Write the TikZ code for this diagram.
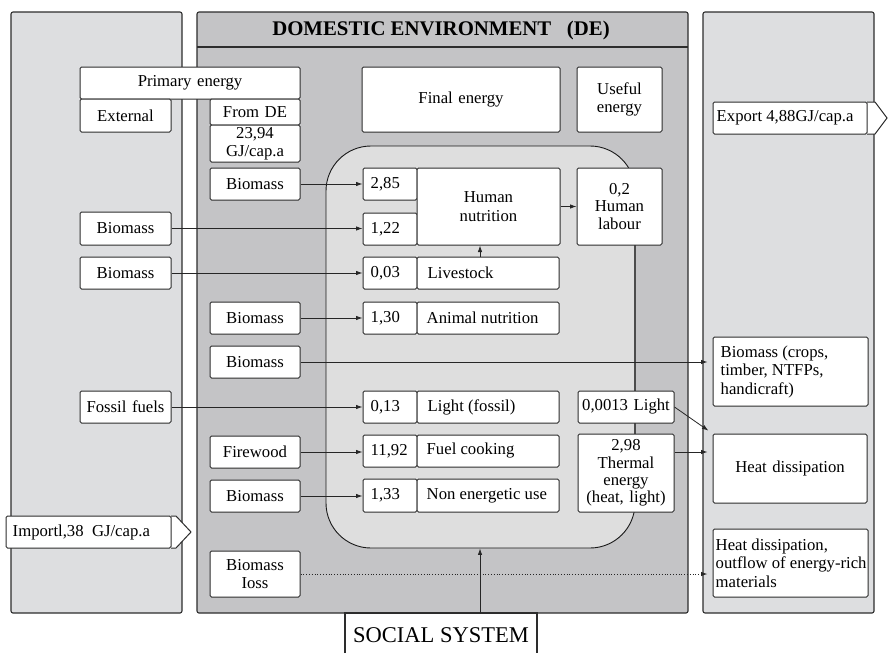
\documentclass[tikz,border=0pt]{standalone}
\usepackage{fontspec}
\setmainfont{Liberation Serif}
\usetikzlibrary{arrows.meta,calc}
\definecolor{outerg}{RGB}{221,222,224}
\definecolor{centerg}{RGB}{196,196,198}
\definecolor{innerg}{RGB}{222,222,222}
\definecolor{edge}{RGB}{45,45,45}
\tikzset{
  panel/.style={draw=edge, line width=1.1pt, rounded corners=2pt},
  box/.style={draw=edge, fill=white, line width=1pt, rounded corners=1.5pt, inner ysep=0pt, inner xsep=3pt,
    font=\fontsize{16.7}{18.5}\selectfont},
  txt/.style={inner sep=0pt, font=\fontsize{16.7}{18.5}\selectfont, align=left},
  flow/.style={draw=black!85, line width=0.8pt, -{Latex[length=6.5pt,width=4.5pt]}},
}
% centred box: [opt]{name}{x1}{y1}{x2}{y2}{text}
\newcommand\mybox[7][]{\node[box, align=center, text width={(#5-#3-6)*1pt},
  minimum width={(#5-#3)*1pt}, minimum height={(#6-#4)*1pt}, #1] (#2) at ({(#3+#5)/2},{(#4+#6)/2}) {#7};}
% left-aligned box: [opt]{name}{x1}{y1}{x2}{y2}{pad}{text}
\newcommand\myleftbox[8][]{\node[box, minimum width={(#5-#3)*1pt}, minimum height={(#6-#4)*1pt}] (#2) at ({(#3+#5)/2},{(#4+#6)/2}) {};
  \node[txt, anchor=west, #1] (#2-t) at ($(#2.west)+(#7,0)$) {#8};}
\begin{document}
\begin{tikzpicture}[x=1pt,y=-1pt]
\useasboundingbox (0,0) rectangle (888,653);
% panels
\draw[panel, fill=outerg] (11,12) rectangle (182,613);
\draw[panel, fill=centerg] (197,12) rectangle (688,613);
\draw[edge, line width=1.1pt] (197,47) -- (688,47);
\node[font=\bfseries\fontsize{20.8}{22}\selectfont] (de) at (441,30) {DOMESTIC ENVIRONMENT~~~(DE)};
\draw[panel, fill=outerg] (703,12) rectangle (874,613);
% social system
\draw[edge, line width=1.1pt] (345,653) -- (345,613) -- (537,613) -- (537,653);
\node[font=\fontsize{22.5}{24}\selectfont] (soc) at (441,635) {SOCIAL SYSTEM};
\coordinate (socTop) at (480,613);
% inner region
\node[draw=black!90, fill=innerg, line width=0.9pt, rounded corners=45pt,
  minimum width=309pt, minimum height=402pt, inner sep=0pt] (inner) at (480.5,347) {};
% primary / final / useful headings
\mybox{pe}{80}{67}{300}{99}{Primary energy}
\mybox{ext}{80}{99}{171}{132}{External}
\mybox{fde}{210}{99}{300}{125}{From DE}
\mybox[font=\fontsize{16.7}{17.5}\selectfont]{gj}{210}{125}{300}{162}{23,94\\GJ/cap.a}
\mybox{fe}{362}{67}{560}{132}{Final energy}
\mybox{ue}{577}{67}{662}{132}{Useful\\energy}
% vertical line from human labour to thermal energy
\coordinate (hlb) at (635,245);
\coordinate (tht) at (635,434);
\draw[draw=black!70, line width=1.4pt] (hlb) -- (tht);
% external sources
\mybox{b2}{80}{212}{171}{245}{Biomass}
\mybox{b3}{80}{257}{171}{289}{Biomass}
\mybox{ff}{80}{391}{171}{423}{Fossil fuels}
% domestic sources
\mybox{b1}{210}{168}{300}{200}{Biomass}
\mybox{b4}{210}{302}{300}{334}{Biomass}
\mybox{b5}{210}{346}{300}{378}{Biomass}
\mybox{fw}{210}{436}{300}{468}{Firewood}
\mybox{b6}{210}{480}{300}{512}{Biomass}
\mybox{bl}{210}{551}{300}{597}{Biomass\\Ioss}
% values
\myleftbox{v1}{363}{168}{417}{200}{8}{2,85}
\myleftbox{v2}{363}{213}{417}{245}{8}{1,22}
\myleftbox{v3}{363}{257}{417}{289}{8}{0,03}
\myleftbox{v4}{363}{302}{417}{334}{8}{1,30}
\myleftbox{v5}{363}{391}{417}{423}{8}{0,13}
\myleftbox{v6}{363}{435}{417}{467}{8}{11,92}
\myleftbox{v7}{363}{479}{417}{512}{8}{1,33}
% final energy uses
\mybox{hn}{417}{168}{560}{245}{Human\\nutrition}
\myleftbox{ls}{417}{257}{559}{289}{11}{Livestock}
\myleftbox{an}{417}{302}{559}{334}{10}{Animal nutrition}
\myleftbox{lf}{417}{391}{559}{423}{11}{Light (fossil)}
\myleftbox{fc}{417}{435}{559}{467}{10}{Fuel cooking}
\myleftbox{ne}{417}{479}{559}{512}{10}{Non energetic use}
% useful energy
\mybox[font=\fontsize{16.7}{17.5}\selectfont]{hl}{577}{168}{662}{245}{0,2\\Human\\labour}
\mybox{lt}{578}{391}{674}{423}{0,0013 Light}
\mybox[font=\fontsize{16.7}{17.3}\selectfont]{th}{578}{434}{674}{512}{2,98\\Thermal\\energy\\(heat, light)}
% right panel
\myleftbox{bc}{713}{337}{868}{406}{8}{Biomass (crops,\\timber, NTFPs,\\handicraft)}
\mybox{hd}{713}{434}{867}{503}{Heat dissipation}
\myleftbox[font=\fontsize{16.7}{18.3}\selectfont]{ho}{713}{529}{868}{597}{3}{Heat dissipation,\\outflow of energy-rich\\materials}
% export / import
\draw[edge, fill=white, line width=1pt] (867,102) -- (875,102) -- (887,118) -- (875,134) -- (867,134);
\myleftbox{exp}{713}{102}{867}{134}{4}{Export 4,88GJ/cap.a}
\draw[edge, fill=white, line width=1pt] (171,516) -- (176,516) -- (191,532) -- (176,548) -- (171,548);
\myleftbox{imp}{6}{516}{171}{548}{7}{Importl,38~~GJ/cap.a}
% flows
\draw[flow] (b1) -- (v1);
\draw[flow] (b2.east) -- (b2.east -| v2.west);
\draw[flow] (b3) -- (v3);
\draw[flow] (b4) -- (v4);
\draw[flow, shorten >=5pt] (b5.east) -- (b5.east -| bc.west);
\draw[flow] (ff) -- (v5);
\draw[flow] (fw.east) -- (fw.east -| v6.west);
\draw[flow] (b6.east) -- (b6.east -| v7.west);
\draw[flow, dotted, line width=0.9pt, shorten >=5pt] (bl.east) -- (bl.east -| ho.west);
\draw[flow] (hn) -- (hl);
\draw[flow] (ls.north -| socTop) -- (hn.south -| socTop);
\draw[flow, shorten >=5pt] (lt.east) -- (hd.north west);
\coordinate (ty) at (0,452);
\draw[flow, shorten >=5pt] (th.east |- ty) -- (hd.west |- ty);
\draw[flow] (socTop) -- (socTop |- inner.south);
\end{tikzpicture}
\end{document}
